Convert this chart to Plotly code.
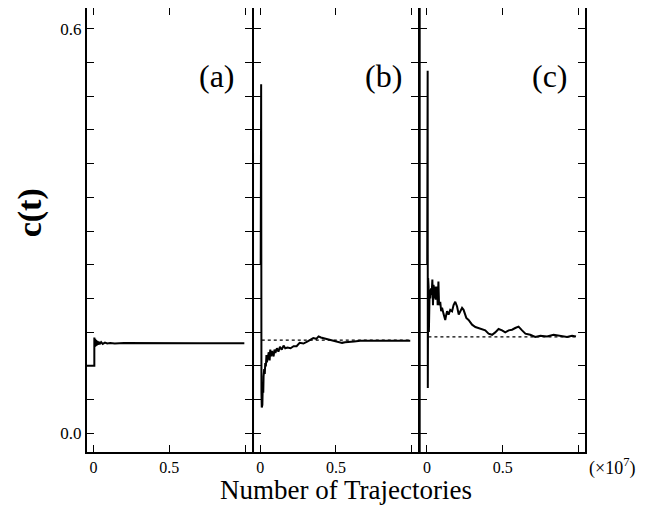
import plotly.graph_objects as go

# ---------------- data (x in units of 1e7 trajectories) ----------------
a_x = [-0.05, 0.005, 0.005, 0.008, 0.011, 0.014, 0.017, 0.02, 0.024, 0.028,
       0.033, 0.04, 0.05, 0.06, 0.075, 0.09, 0.11, 0.14, 0.2, 0.3,
       0.4, 0.5, 0.6, 0.7, 0.8, 0.9, 0.995]
a_y = [0.1, 0.1, 0.142, 0.128, 0.140, 0.129, 0.138, 0.130, 0.137, 0.131,
       0.136, 0.132, 0.135, 0.1325, 0.1345, 0.133, 0.1338, 0.1332, 0.1336, 0.1334,
       0.1335, 0.1335, 0.1335, 0.1335, 0.1335, 0.1335, 0.1335]

b_x = [0.003, 0.006, 0.008, 0.010, 0.012, 0.014, 0.017, 0.020, 0.022, 0.026,
       0.030, 0.033, 0.037, 0.041, 0.044, 0.050, 0.056, 0.062, 0.066, 0.071,
       0.077, 0.082, 0.088, 0.094, 0.10, 0.11, 0.12, 0.13, 0.142, 0.154,
       0.165, 0.18, 0.2, 0.22, 0.24, 0.26, 0.285, 0.31, 0.33, 0.35,
       0.37, 0.385, 0.40, 0.42, 0.44, 0.46, 0.49, 0.51, 0.54, 0.56,
       0.59, 0.62, 0.66, 0.70, 0.74, 0.79, 0.84, 0.88, 0.93, 0.97, 0.99]
b_y = [0.25, 0.518, 0.06, 0.038, 0.052, 0.042, 0.075, 0.060, 0.084, 0.095,
       0.088, 0.104, 0.099, 0.116, 0.105, 0.112, 0.120, 0.108, 0.124, 0.114,
       0.122, 0.118, 0.114, 0.124, 0.119, 0.126, 0.121, 0.128, 0.124, 0.130,
       0.126, 0.127, 0.126, 0.129, 0.129, 0.134, 0.133, 0.136, 0.139, 0.141,
       0.140, 0.1436, 0.142, 0.141, 0.140, 0.139, 0.137, 0.136, 0.134, 0.135,
       0.136, 0.136, 0.137, 0.137, 0.136, 0.136, 0.137, 0.136, 0.137, 0.136, 0.137]

c_x = [0.002, 0.005, 0.006, 0.008, 0.009, 0.011, 0.013, 0.015, 0.018, 0.022,
       0.027, 0.031, 0.036, 0.040, 0.044, 0.049, 0.053, 0.058, 0.062, 0.067,
       0.071, 0.076, 0.080, 0.088, 0.094, 0.10, 0.11, 0.121, 0.127, 0.133,
       0.143, 0.154, 0.166, 0.176, 0.187, 0.199, 0.21, 0.22, 0.232, 0.242,
       0.26, 0.275, 0.298, 0.32, 0.341, 0.364, 0.385, 0.407, 0.43, 0.451,
       0.473, 0.496, 0.517, 0.54, 0.562, 0.583, 0.605, 0.628, 0.65, 0.682,
       0.715, 0.749, 0.793, 0.836, 0.88, 0.925, 0.958, 0.984]
c_y = [0.25, 0.538, 0.067, 0.23, 0.10, 0.2176, 0.15, 0.205, 0.213, 0.200,
       0.215, 0.205, 0.228, 0.19, 0.22, 0.2, 0.2176, 0.198, 0.21, 0.2176,
       0.19, 0.225, 0.19, 0.195, 0.181, 0.186, 0.177, 0.168, 0.175, 0.181,
       0.176, 0.183, 0.181, 0.19, 0.195, 0.188, 0.176, 0.181, 0.186, 0.183,
       0.171, 0.168, 0.161, 0.1575, 0.156, 0.1545, 0.1525, 0.1476, 0.146, 0.1495,
       0.1545, 0.1525, 0.1495, 0.1525, 0.1535, 0.156, 0.158, 0.1525, 0.1476, 0.146,
       0.1427, 0.1446, 0.1436, 0.146, 0.1446, 0.1427, 0.1446, 0.1436]

# edge segments seen along the left borders of panels (b) and (c)
b_edge_x = [-0.046, -0.046]
b_edge_y = [0.417, -0.03]
c_edge_x = [-0.046, -0.046]
c_edge_y = [0.70, -0.03]

# dotted reference (converged) levels
ref_x = [0.01, 0.99]
b_ref = 0.138
c_ref = 0.143

panel_labels = ["(a)", "(b)", "(c)"]

y_tick_vals = [0.0, 0.6]
y_tick_text = ["0.0", "0.6"]
y_minor_step = 0.05
x_tick_vals = [0.0, 0.5]
x_tick_text = ["0", "0.5"]
x_minor_vals = [1.0]

x_range = [-0.05, 1.05]
y_range = [-0.028, 0.631]

SERIF = "Liberation Serif"

fig = go.Figure()
line = dict(color="black", width=2)

fig.add_trace(go.Scatter(x=a_x, y=a_y, mode="lines", line=line, xaxis="x", yaxis="y"))
fig.add_trace(go.Scatter(x=b_x, y=b_y, mode="lines", line=line, xaxis="x2", yaxis="y2"))
fig.add_trace(go.Scatter(x=c_x, y=c_y, mode="lines", line=line, xaxis="x3", yaxis="y3"))
fig.add_trace(go.Scatter(x=b_edge_x, y=b_edge_y, mode="lines", line=dict(color="black", width=1.5),
                         xaxis="x2", yaxis="y2"))
fig.add_trace(go.Scatter(x=c_edge_x, y=c_edge_y, mode="lines", line=dict(color="black", width=1.5),
                         xaxis="x3", yaxis="y3"))
fig.add_trace(go.Scatter(x=ref_x, y=[b_ref, b_ref], mode="lines",
                         line=dict(color="black", width=1.2, dash="dot"), xaxis="x2", yaxis="y2"))
fig.add_trace(go.Scatter(x=ref_x, y=[c_ref, c_ref], mode="lines",
                         line=dict(color="black", width=1.2, dash="dot"), xaxis="x3", yaxis="y3"))

domains = [[0.0, 1/3], [1/3, 2/3], [2/3, 1.0]]
for i, dom in enumerate(domains):
    sx = "" if i == 0 else str(i + 1)
    xa = dict(domain=dom, range=x_range, anchor="y" + sx, showline=True, linecolor="black",
              linewidth=2, mirror="ticks", ticks="inside", ticklen=7, tickwidth=1,
              tickcolor="black", tickmode="array", tickvals=x_tick_vals, ticktext=x_tick_text,
              minor=dict(tickmode="array", tickvals=x_minor_vals, ticks="inside", ticklen=7,
                         tickwidth=1, tickcolor="black", showgrid=False),
              showgrid=False, zeroline=False,
              tickfont=dict(family=SERIF, size=16, color="black"))
    ya = dict(domain=[0, 1], range=y_range, anchor="x" + sx, showline=True, linecolor="black",
              linewidth=1.1, mirror="ticks", ticks="inside", ticklen=8, tickwidth=1,
              tickcolor="black", tickmode="array", tickvals=y_tick_vals, ticktext=y_tick_text,
              minor=dict(tick0=0, dtick=y_minor_step, ticks="inside", ticklen=8,
                         tickwidth=1, tickcolor="black", showgrid=False),
              showgrid=False, zeroline=False, showticklabels=(i == 0),
              tickfont=dict(family=SERIF, size=17, color="black"))
    fig.layout["xaxis" + sx] = xa
    fig.layout["yaxis" + sx] = ya
    fig.add_annotation(x=0.947, y=0.53, xref="x" + sx, yref="y" + sx, text=panel_labels[i],
                       showarrow=False, xanchor="right", yanchor="middle",
                       font=dict(family=SERIF, size=32, color="black"))

# heavier outer frame on the far left and far right
fig.add_shape(type="line", xref="paper", yref="paper", x0=0, x1=0, y0=0, y1=1,
              line=dict(color="black", width=2))
fig.add_shape(type="line", xref="paper", yref="paper", x0=1, x1=1, y0=0, y1=1,
              line=dict(color="black", width=2))

fig.add_annotation(x=-0.112, y=0.5375, xref="paper", yref="paper", text="<b>c(t)</b>",
                   textangle=-90, showarrow=False, xanchor="center", yanchor="middle",
                   font=dict(family=SERIF, size=34, color="black"))
fig.add_annotation(x=0.52, y=-0.085, xref="paper", yref="paper", text="Number of Trajectories",
                   showarrow=False, xanchor="center", yanchor="middle",
                   font=dict(family=SERIF, size=27, color="black"))
fig.add_annotation(x=1.052, y=-0.033, xref="paper", yref="paper", text="(×10<sup>7</sup>)",
                   showarrow=False, xanchor="center", yanchor="middle",
                   font=dict(family=SERIF, size=18, color="black"))

# page body adds an 8px offset; margins compensate so the plot area lands at x 86-586, y 7-452
fig.update_layout(width=651, height=508, showlegend=False,
                  margin=dict(l=78, r=73, t=0, b=64, autoexpand=False),
                  paper_bgcolor="white", plot_bgcolor="white")

fig.write_html("out.html")
